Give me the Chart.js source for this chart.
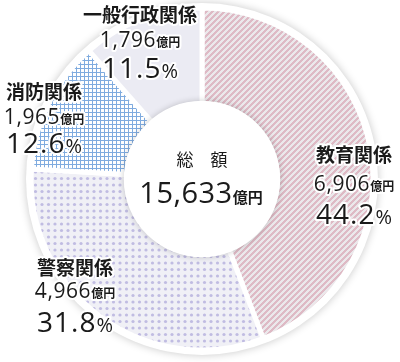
<!DOCTYPE html>
<html lang="ja">
<head>
<meta charset="utf-8">
<script src="https://cdn.jsdelivr.net/npm/chart.js@4/dist/chart.umd.min.js"></script>
<style>
  html, body { margin: 0; padding: 0; background: #ffffff; }
  #wrap { width: 400px; height: 362px; position: relative; }
</style>
</head>
<body>
<div id="wrap"><canvas id="chart-total"></canvas></div>
<script>
// ---- DATA ----
const categories = ['教育関係', '警察関係', '消防関係', '一般行政関係'];
const amounts    = [6906, 4966, 1965, 1796];          // 億円
const shares     = ['44.2', '31.8', '12.6', '11.5'];  // %
const totalLabel = '総　額';
const totalValue = 15633;

// ---- PATTERNS ----
function makeTile(w, h, paint) {
  const c = document.createElement('canvas');
  c.width = w; c.height = h;
  paint(c.getContext('2d'), w, h);
  return c.getContext('2d').createPattern(c, 'repeat');
}

// pink diagonal stripes
const patStripe = makeTile(6, 6, (g, w, h) => {
  const img = g.createImageData(w, h);
  for (let y = 0; y < h; y++) {
    for (let x = 0; x < w; x++) {
      const i = (y * w + x) * 4;
      const pink = ((x + y) % 6) < 3;
      img.data[i]     = pink ? 222 : 235;
      img.data[i + 1] = pink ? 186 : 232;
      img.data[i + 2] = pink ? 197 : 235;
      img.data[i + 3] = 255;
    }
  }
  g.putImageData(img, 0, 0);
});

// lavender dots
const patDots = makeTile(13, 13, (g) => {
  g.fillStyle = '#f0f0f6';
  g.fillRect(0, 0, 13, 13);
  g.fillStyle = '#c0bce2';
  [[3, 3], [9.5, 3], [3, 9.5], [9.5, 9.5]].forEach(([x, y]) => {
    g.beginPath(); g.arc(x, y, 1.6, 0, Math.PI * 2); g.fill();
  });
});

// blue grid
const patGrid = makeTile(4, 4, (g) => {
  g.fillStyle = '#ffffff';
  g.fillRect(0, 0, 4, 4);
  g.fillStyle = '#7fabdf';
  g.fillRect(0, 0, 4, 1);
  g.fillRect(0, 0, 1, 4);
});

const sliceFills = [patStripe, patDots, patGrid, '#ebebf3'];

// ---- LABEL LAYOUT (offsets from centre) ----
const labelPos = [
  { dx: 152, name: -17, amt: 12, pct: 45 },
  { dx: -127, name: 96, amt: 119, pct: 153 },
  { dx: -158, name: -80, amt: -55, pct: -26 },
  { dx: -62, name: -157, amt: -132, pct: -101 },
];

const FONT = '"Open Sans", "Noto Sans CJK JP", sans-serif';
const JFONT = '"Noto Sans CJK JP", sans-serif';

function drawRun(ctx, parts, cx, y) {
  let total = 0;
  parts.forEach(p => {
    ctx.font = p.font;
    ctx.letterSpacing = p.ls || '0px';
    p.w = ctx.measureText(p.text).width;
    total += p.w;
  });
  let x = cx - total / 2;
  ctx.textAlign = 'left';
  ctx.textBaseline = 'alphabetic';
  ctx.lineJoin = 'round';
  parts.forEach(p => {
    ctx.font = p.font;
    ctx.letterSpacing = p.ls || '0px';
    ctx.lineWidth = 4;
    ctx.strokeStyle = '#ffffff';
    ctx.strokeText(p.text, x, y);
    ctx.fillStyle = '#1a1a1a';
    ctx.fillText(p.text, x, y);
    x += p.w;
  });
  ctx.letterSpacing = '0px';
}

const ringPlugin = {
  id: 'ring',
  beforeDatasetsDraw(chart) {
    const arc = chart.getDatasetMeta(0).data[0];
    const { x, y, outerRadius } = arc;
    const ctx = chart.ctx;
    ctx.save();
    ctx.shadowColor = 'rgba(0,0,0,0.22)';
    ctx.shadowBlur = 9;
    ctx.fillStyle = '#ffffff';
    ctx.beginPath(); ctx.arc(x, y, outerRadius + 5, 0, Math.PI * 2); ctx.fill();
    ctx.restore();
  },
  afterDatasetsDraw(chart) {
    const meta = chart.getDatasetMeta(0);
    const { x, y, innerRadius } = meta.data[0];
    const ctx = chart.ctx;
    ctx.save();
    ctx.shadowColor = 'rgba(0,0,0,0.2)';
    ctx.shadowBlur = 6;
    ctx.fillStyle = '#ffffff';
    ctx.beginPath(); ctx.arc(x, y, innerRadius + 3, 0, Math.PI * 2); ctx.fill();
    ctx.restore();

    ctx.save();
    // centre total
    drawRun(ctx, [{ text: totalLabel, font: '17px ' + JFONT }], x, y - 13);
    drawRun(ctx, [
      { text: totalValue.toLocaleString('en-US'), font: '29px ' + FONT, ls: '0.5px' },
      { text: '億円', font: 'bold 15px ' + JFONT },
    ], x - 1, y + 24);

    categories.forEach((name, i) => {
      const p = labelPos[i];
      const cx = x + p.dx;
      drawRun(ctx, [{ text: name, font: 'bold 19px ' + JFONT }], cx, y + p.name);
      drawRun(ctx, [
        { text: amounts[i].toLocaleString('en-US'), font: '21px ' + FONT, ls: '0.6px' },
        { text: '億円', font: 'bold 12px ' + JFONT },
      ], cx, y + p.amt);
      drawRun(ctx, [
        { text: shares[i], font: '28px ' + FONT, ls: '1px' },
        { text: '%', font: '20px ' + FONT },
      ], cx, y + p.pct);
    });
    ctx.restore();
  }
};

new Chart(document.getElementById('chart-total'), {
  type: 'doughnut',
  data: {
    labels: categories,
    datasets: [{
      data: amounts,
      backgroundColor: sliceFills,
      borderColor: '#ffffff',
      borderWidth: 5,
      hoverOffset: 0,
    }]
  },
  options: {
    responsive: true,
    maintainAspectRatio: false,
    animation: false,
    radius: 171,
    cutout: '44%',
    layout: { padding: { left: 4, right: 0, top: 0, bottom: 4 } },
    plugins: {
      legend: { display: false },
      tooltip: { enabled: false },
    },
    events: [],
  },
  plugins: [ringPlugin]
});
</script>
</body>
</html>
